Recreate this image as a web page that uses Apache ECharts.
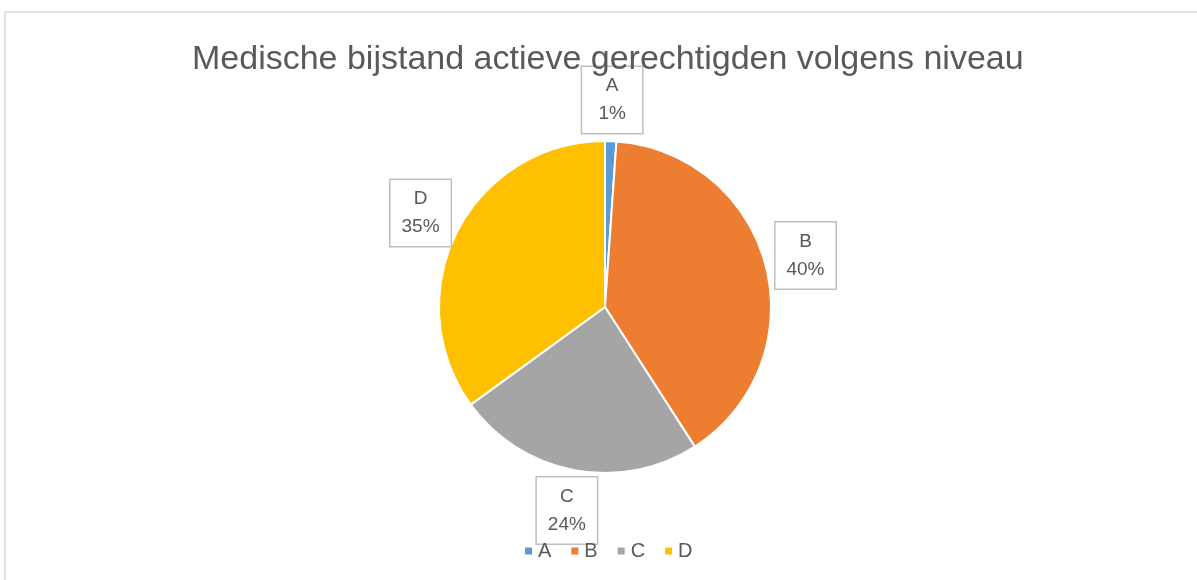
<!DOCTYPE html>
<html>
<head>
<meta charset="utf-8">
<script src="https://cdn.jsdelivr.net/npm/echarts@6/dist/echarts.min.js"></script>
<style>
  html, body { margin: 0; padding: 0; background: #fff; }
  #chart { width: 1197px; height: 580px; }
</style>
</head>
<body>
<div id="chart"></div>
<script>
// data
const categories = ['A', 'B', 'C', 'D'];
const values = [1.1, 39.8, 24.1, 35.0];
const colors = ['#5b9bd5', '#ed7d31', '#a5a5a5', '#ffc000'];

const CX = 605, CY = 307, R = 166, LABEL_R = 207;

// mid angle (from top, clockwise) of every slice
const total = values.reduce((a, b) => a + b, 0);
const midAngles = [];
let acc = 0;
values.forEach(v => {
  midAngles.push((acc + v / 2) / total * Math.PI * 2);
  acc += v;
});

const myChart = echarts.init(document.getElementById('chart'));

myChart.setOption({
  animation: false,
  color: colors,
  title: {
    text: 'Medische bijstand actieve gerechtigden volgens niveau',
    left: 187,
    top: 38,
    textStyle: {
      fontFamily: 'Liberation Sans',
      fontSize: 34,
      fontWeight: 'normal',
      color: '#595959'
    }
  },
  graphic: [{
    type: 'rect',
    shape: { x: 5, y: 12, width: 1200, height: 600 },
    style: { fill: 'none', stroke: '#d9d9d9', lineWidth: 1.5 },
    silent: true
  }],
  legend: {
    data: categories,
    bottom: 14,
    left: 518,
    icon: 'rect',
    itemWidth: 9,
    itemHeight: 9,
    itemGap: 18,
    textStyle: { fontFamily: 'Liberation Sans', fontSize: 20, color: '#595959' },
    selectedMode: false
  },
  series: [{
    type: 'pie',
    center: [CX, CY],
    radius: R,
    startAngle: 90,
    clockwise: true,
    percentPrecision: 0,
    itemStyle: { borderColor: '#fff', borderWidth: 2 },
    label: {
      position: 'outside',
      formatter: '{t|{b}}\n{t|{d}%}',
      backgroundColor: '#fff',
      borderColor: '#bfbfbf',
      borderWidth: 1.5,
      padding: [5, 7, 5, 7],
      rich: {
        t: {
          fontFamily: 'Liberation Sans',
          fontSize: 19,
          lineHeight: 28,
          color: '#595959',
          width: 46,
          align: 'center'
        }
      }
    },
    labelLine: { show: false },
    labelLayout: (params) => {
      const a = midAngles[params.dataIndex];
      return {
        x: CX + LABEL_R * Math.sin(a),
        y: CY - LABEL_R * Math.cos(a),
        align: 'center',
        verticalAlign: 'middle'
      };
    },
    data: categories.map((c, i) => ({ name: c, value: values[i] }))
  }]
});

window.addEventListener('resize', () => { myChart.resize(); });
</script>
</body>
</html>
